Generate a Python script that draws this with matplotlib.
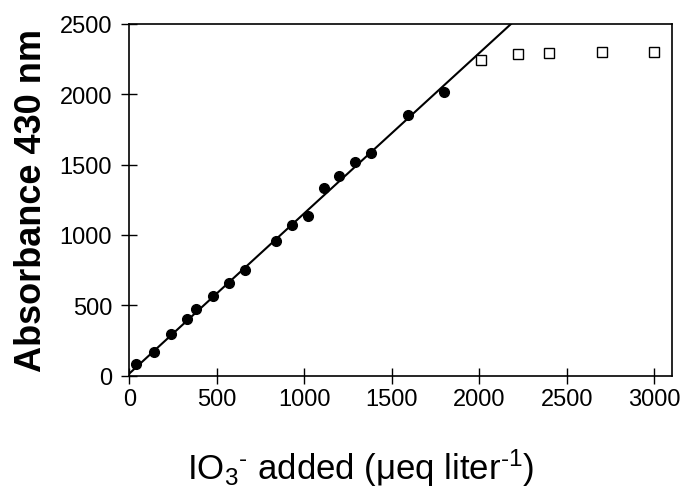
import matplotlib
matplotlib.use("Agg")
import matplotlib.pyplot as plt

plt.rcParams['font.family'] = ['Liberation Sans', 'DejaVu Sans']
plt.rcParams['mathtext.fontset'] = 'custom'
plt.rcParams['mathtext.rm'] = 'Liberation Sans'
plt.rcParams['mathtext.it'] = 'Liberation Sans'
plt.rcParams['mathtext.bf'] = 'Liberation Sans:bold'
plt.rcParams['mathtext.default'] = 'regular'

# Data
iodate_added = [40, 140, 240, 330, 380, 480, 570, 660, 840, 930, 1020,
                1110, 1200, 1290, 1380, 1590, 1800]
absorbance = [85, 165, 295, 405, 470, 565, 655, 750, 960, 1070, 1135,
              1335, 1420, 1520, 1580, 1850, 2015]

plateau_added = [2010, 2220, 2400, 2700, 3000]
plateau_abs = [2245, 2285, 2295, 2300, 2300]

fit_x = [0, 2180]
fit_y = [15, 2500]

x_ticks = [0, 500, 1000, 1500, 2000, 2500, 3000]
y_ticks = [0, 500, 1000, 1500, 2000, 2500]

fig = plt.figure(figsize=(6.88, 5.02), dpi=100)
ax = fig.add_axes([0.1882, 0.25, 0.7885, 0.7002])

ax.plot(fit_x, fit_y, color='black', lw=1.5, zorder=2)
ax.plot(iodate_added, absorbance, 'o', color='black', ms=7, zorder=3)
ax.plot(plateau_added, plateau_abs, 's', mfc='white', mec='black', mew=1.0,
        ms=6.5, zorder=3)

ax.set_xlim(0, 3100)
ax.set_ylim(0, 2500)
ax.set_xticks(x_ticks)
ax.set_yticks(y_ticks)
ax.tick_params(axis='x', direction='inout', length=11, width=1, pad=3.5,
               labelsize=17)
ax.tick_params(axis='y', direction='inout', length=11, width=1, pad=7,
               labelsize=17)
for s in ax.spines.values():
    s.set_linewidth(1.2)

ax.set_ylabel('Absorbance 430 nm', fontsize=26, fontweight='bold')
ax.yaxis.set_label_coords(-0.148, 0.5)

ax.set_xlabel('IO$_{3}{}^{\u2010}$ added (μeq liter$^{\u20101}$)', fontsize=25)
ax.xaxis.label.set_verticalalignment('baseline')
ax.xaxis.set_label_coords(0.4267, -0.2944)

fig.savefig('out.png', dpi=100)
